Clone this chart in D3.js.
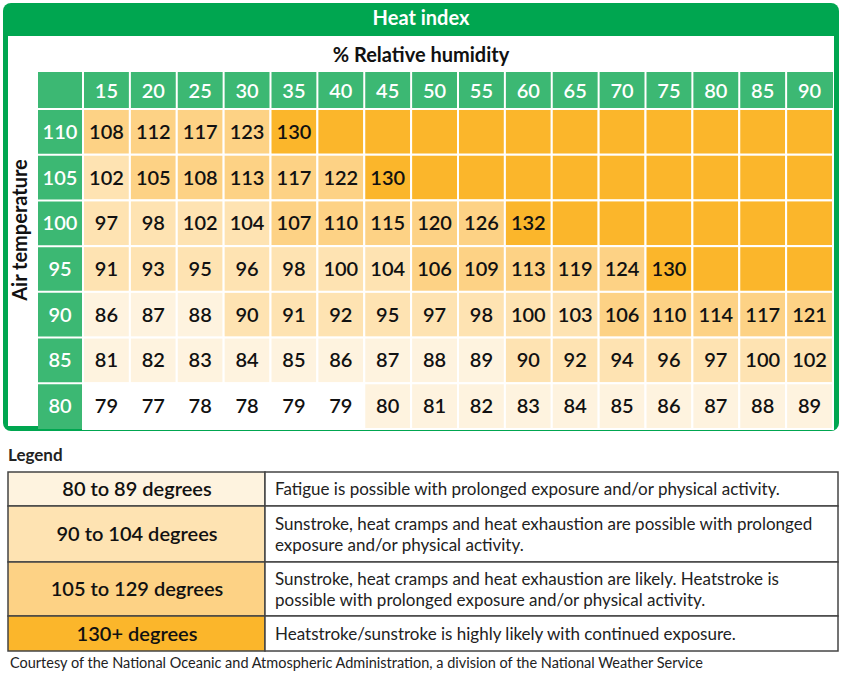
<!DOCTYPE html>
<html><head><meta charset="utf-8">
<script src="https://cdn.jsdelivr.net/npm/d3@7/dist/d3.min.js"></script>
<style>body{margin:0;background:#fff;font-family:Lato,"Open Sans",sans-serif;}</style>
</head><body><svg id="c" width="842" height="673"></svg>
<script>
const humidity = [15,20,25,30,35,40,45,50,55,60,65,70,75,80,85,90];
const temps = [110,105,100,95,90,85,80];
const row110 = [108,112,117,123,130,null,null,null,null,null,null,null,null,null,null,null];
const row105 = [102,105,108,113,117,122,130,null,null,null,null,null,null,null,null,null];
const row100 = [97,98,102,104,107,110,115,120,126,132,null,null,null,null,null,null];
const row95 = [91,93,95,96,98,100,104,106,109,113,119,124,130,null,null,null];
const row90 = [86,87,88,90,91,92,95,97,98,100,103,106,110,114,117,121];
const row85 = [81,82,83,84,85,86,87,88,89,90,92,94,96,97,100,102];
const row80 = [79,77,78,78,79,79,80,81,82,83,84,85,86,87,88,89];
const values = [row110,row105,row100,row95,row90,row85,row80];
const legendLabels = ["80 to 89 degrees","90 to 104 degrees","105 to 129 degrees","130+ degrees"];
const legendText = [
 ["Fatigue is possible with prolonged exposure and/or physical activity."],
 ["Sunstroke, heat cramps and heat exhaustion are possible with prolonged","exposure and/or physical activity."],
 ["Sunstroke, heat cramps and heat exhaustion are likely. Heatstroke is","possible with prolonged exposure and/or physical activity."],
 ["Heatstroke/sunstroke is highly likely with continued exposure."]];
const thresholds = [80,90,105,130];
const colors = ["#ffffff","#fef3df","#fee3b2","#fdd285","#fbb62b"];

const svg = d3.select("#c");
const green = "#00a650", hgreen = "#3cb873";
const color = d3.scaleThreshold().domain(thresholds).range(colors);

svg.append("rect").attr("x",3).attr("y",3).attr("width",836).attr("height",428).attr("rx",8).attr("fill",green);
svg.append("rect").attr("x",8).attr("y",36).attr("width",826).attr("height",390).attr("fill","#fff");
svg.append("text").attr("x",421).attr("y",25).attr("text-anchor","middle").attr("fill","#fff").attr("font-size",20).attr("font-weight",700).text("Heat index");
svg.append("text").attr("x",421).attr("y",62).attr("text-anchor","middle").attr("fill","#111").attr("font-size",20).attr("font-weight",700).text("% Relative humidity");
svg.append("text").attr("transform","translate(27,230) rotate(-90)").attr("text-anchor","middle").attr("fill","#111").attr("font-size",20).attr("font-weight",700).text("Air temperature");

const x = d3.scaleBand().domain(humidity).range([83,833]);
const y = d3.scaleBand().domain(temps).range([109,429]);
const g = svg.append("g");
g.append("rect").attr("x",38).attr("y",72).attr("width",795).attr("height",37).attr("fill",hgreen);
g.append("rect").attr("x",38).attr("y",109).attr("width",45).attr("height",320).attr("fill",hgreen);
humidity.forEach(h=>{
  g.append("text").attr("x",x(h)+x.bandwidth()/2).attr("y",98).attr("text-anchor","middle").attr("fill","#fff").attr("font-size",20).attr("font-weight",600).text(h);
});
temps.forEach((t,i)=>{
  g.append("text").attr("x",60).attr("y",y(t)+y.bandwidth()/2+7).attr("text-anchor","middle").attr("fill","#fff").attr("font-size",20).attr("font-weight",600).text(t);
  values[i].forEach((v,j)=>{
    const h=humidity[j];
    g.append("rect").attr("x",x(h)).attr("y",y(t)).attr("width",x.bandwidth()).attr("height",y.bandwidth())
     .attr("fill",v==null?colors[4]:color(v)).attr("stroke","#fff").attr("stroke-width",2);
    if(v!=null) g.append("text").attr("x",x(h)+x.bandwidth()/2).attr("y",y(t)+y.bandwidth()/2+7).attr("text-anchor","middle").attr("fill","#111").attr("font-size",20).attr("font-weight",600).text(v);
  });
});
humidity.forEach(h=>g.append("line").attr("x1",x(h)).attr("x2",x(h)).attr("y1",72).attr("y2",109).attr("stroke","#fff").attr("stroke-width",2));
temps.forEach(t=>g.append("line").attr("x1",38).attr("x2",83).attr("y1",y(t)).attr("y2",y(t)).attr("stroke","#fff").attr("stroke-width",2));

svg.append("text").attr("x",8).attr("y",461).attr("fill","#222").attr("font-size",17).attr("font-weight",700).text("Legend");
const ly=[472,506,562,616,651];
legendLabels.forEach((l,i)=>{
  svg.append("rect").attr("x",8).attr("y",ly[i]).attr("width",257).attr("height",ly[i+1]-ly[i]).attr("fill",colors[i+1]).attr("stroke","#444").attr("stroke-width",1.5);
  svg.append("rect").attr("x",265).attr("y",ly[i]).attr("width",573).attr("height",ly[i+1]-ly[i]).attr("fill","#fff").attr("stroke","#444").attr("stroke-width",1.5);
  const cy=(ly[i]+ly[i+1])/2;
  svg.append("text").attr("x",137).attr("y",cy+7).attr("text-anchor","middle").attr("fill","#111").attr("font-size",20).attr("font-weight",600).text(l);
  const lines=legendText[i];
  lines.forEach((s,k)=>{
    svg.append("text").attr("x",275).attr("y",cy+6+(k-(lines.length-1)/2)*21).attr("fill","#222").attr("font-size",17).text(s);
  });
});
svg.append("text").attr("x",10).attr("y",668).attr("fill","#222").attr("font-size",14.5).text("Courtesy of the National Oceanic and Atmospheric Administration, a division of the National Weather Service");
</script></body></html>
